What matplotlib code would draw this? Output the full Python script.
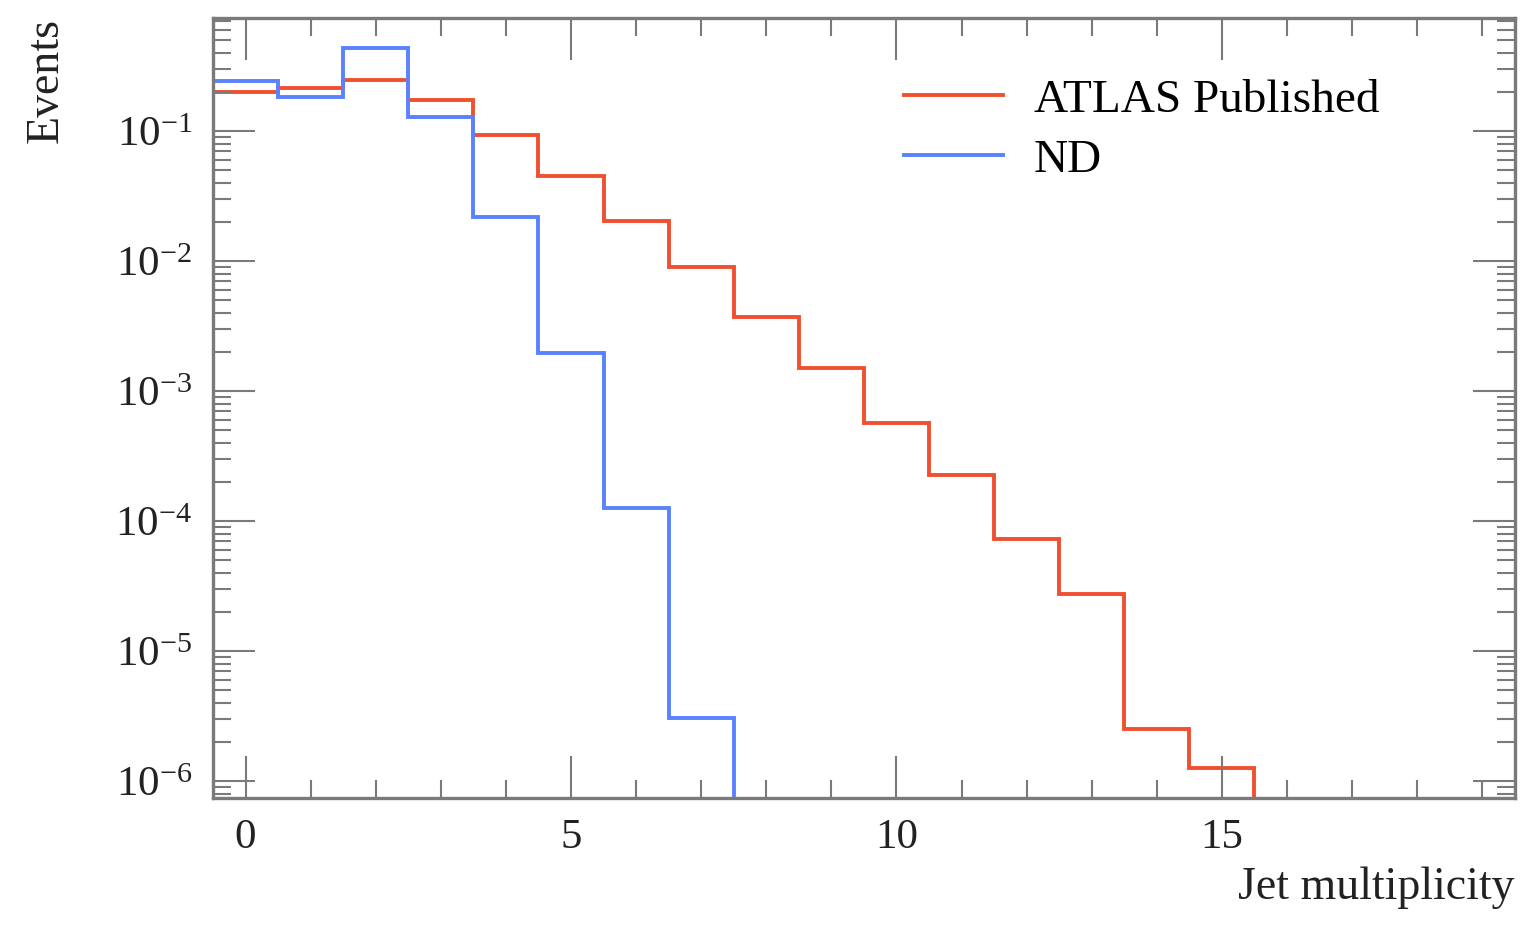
import numpy as np
import matplotlib
matplotlib.use("Agg")
import matplotlib.pyplot as plt
from matplotlib.ticker import MultipleLocator, LogLocator, NullFormatter

plt.rcParams['font.family'] = ['Liberation Serif', 'DejaVu Serif']
plt.rcParams['mathtext.fontset'] = 'custom'
plt.rcParams['mathtext.rm'] = 'Liberation Serif'
plt.rcParams['mathtext.it'] = 'Liberation Serif:italic'

# jet multiplicity bins (centred on integers)
atlas = [0.200, 0.214, 0.247, 0.173, 0.093, 0.045, 0.0203, 0.0090,
         0.0037, 0.00150, 5.7e-4, 2.26e-4, 7.3e-5, 2.74e-5, 2.5e-6, 1.26e-6]
nd = [0.243, 0.183, 0.435, 0.128, 0.0218, 0.00196, 1.26e-4, 3.05e-6]
y_decades = [-6, -5, -4, -3, -2, -1]

red = '#f0502f'
blue = '#5a82ff'
txt = '#222222'

fig = plt.figure(figsize=(15.27, 9.26), dpi=100)
ax = fig.add_axes([0.1395, 0.1382, 0.8525, 0.8424])

edges_a = np.arange(len(atlas) + 1) - 0.5
edges_n = np.arange(len(nd) + 1) - 0.5
ax.stairs(atlas, edges_a, baseline=1e-9, color=red, lw=2.8, label='ATLAS Published')
ax.stairs(nd, edges_n, baseline=1e-9, color=blue, lw=2.8, label='ND')

ax.set_yscale('log')
ax.set_xlim(-0.5, 19.5)
ax.set_ylim(7.4e-7, 0.739)

ax.xaxis.set_major_locator(MultipleLocator(5))
ax.xaxis.set_minor_locator(MultipleLocator(1))
ax.set_yticks([10.0 ** d for d in y_decades],
              [r'$10^{%d}$' % d for d in y_decades])
ax.yaxis.set_minor_locator(LogLocator(base=10, subs=np.arange(2, 10), numticks=20))
ax.yaxis.set_minor_formatter(NullFormatter())

for s in ax.spines.values():
    s.set_color('#7a7a7a')
    s.set_linewidth(2.4)

ax.tick_params(which='both', direction='in', top=True, right=True,
               color='#7a7a7a', labelsize=31, labelcolor=txt)
ax.tick_params(which='major', length=30, width=1.5, pad=15)
ax.tick_params(which='minor', length=13, width=1.5)

ax.set_xlabel('Jet multiplicity', fontsize=33, color=txt, loc='right')
ax.xaxis.set_label_coords(1.0, -0.088)
ax.set_ylabel('Events', fontsize=33, color=txt, loc='top')
ax.yaxis.set_label_coords(-0.112, 1.0)

ax.legend(loc='upper left', bbox_to_anchor=(0.531, 0.922), frameon=False,
          borderpad=0, borderaxespad=0,
          fontsize=34, handlelength=2.1, handletextpad=0.65, labelspacing=0.36)

fig.savefig('out.png', dpi=100)
